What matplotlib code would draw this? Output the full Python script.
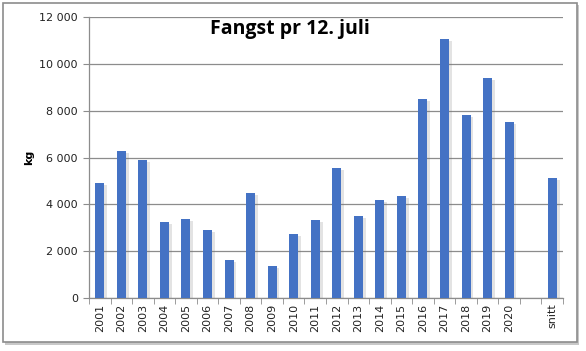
import matplotlib
matplotlib.use("Agg")
import matplotlib.pyplot as plt
import matplotlib.patheffects as pe
from matplotlib.patches import Rectangle
import numpy as np

categories = [str(y) for y in range(2001, 2021)] + ["", "snitt"]
values = [4910, 6280, 5890, 3250, 3370, 2900, 1620, 4480, 1370, 2730,
          3330, 5550, 3500, 4180, 4360, 8500, 11060, 7810, 9390, 7510,
          np.nan, 5120]
yticks = [0, 2000, 4000, 6000, 8000, 10000, 12000]
ytick_labels = ["0", "2 000", "4 000", "6 000", "8 000", "10 000", "12 000"]
title = "Fangst pr 12. juli"
ylabel = "kg"

fig = plt.figure(figsize=(5.86, 3.51), dpi=100)
fig.patch.set_facecolor("white")

# outer frame with shadow
frame_shadow = Rectangle((5/586, 1 - 345/351), 574/586, 340/351, transform=fig.transFigure,
                         facecolor="#c8c8c8", edgecolor="none", zorder=-3)
frame = Rectangle((3/586, 1 - 342/351), 574/586, 339/351, transform=fig.transFigure,
                  facecolor="white", edgecolor="#8c8c8c", linewidth=1.2, zorder=-2)
fig.patches.extend([frame_shadow, frame])

ax = fig.add_axes([89/586, 1 - 298/351, 474/586, 281/351])
ax.set_facecolor("none")
x = np.arange(len(categories))
bars = ax.bar(x, values, width=0.42, color="#4472c4", zorder=3)
for b in bars:
    b.set_path_effects([pe.SimplePatchShadow(offset=(2, -1.5), shadow_rgbFace="#777777", alpha=0.2),
                        pe.Normal()])

ax.set_xlim(-0.5, len(categories) - 0.5)
ax.set_ylim(0, 12000)
ax.set_yticks(yticks)
ax.set_yticklabels(ytick_labels, fontsize=8, color="#222222")
ax.set_xticks(x)
ax.set_xticklabels(categories, rotation=90, fontsize=8, color="#222222")
ax.set_xticks(np.arange(-0.5, len(categories), 1), minor=True)
ax.tick_params(axis="x", which="major", length=0, pad=4)
ax.tick_params(axis="x", which="minor", length=4, color="#8c8c8c", direction="out")
ax.tick_params(axis="y", length=4, color="#8c8c8c", direction="out", pad=4)
ax.yaxis.grid(True, color="#8c8c8c", linewidth=0.9, zorder=0)
ax.set_axisbelow(True)
for s in ["top", "right"]:
    ax.spines[s].set_visible(False)
for s in ["left", "bottom"]:
    ax.spines[s].set_color("#8c8c8c")
    ax.spines[s].set_linewidth(0.9)

ax.set_ylabel(ylabel, fontsize=8, fontweight="bold")
ax.yaxis.set_label_coords(-0.115, 0.5)
fig.text(290/586, 1 - 29/351, title, ha="center", va="center",
         fontsize=14, fontweight="bold", family="Open Sans")

fig.savefig("out.png", dpi=100)
